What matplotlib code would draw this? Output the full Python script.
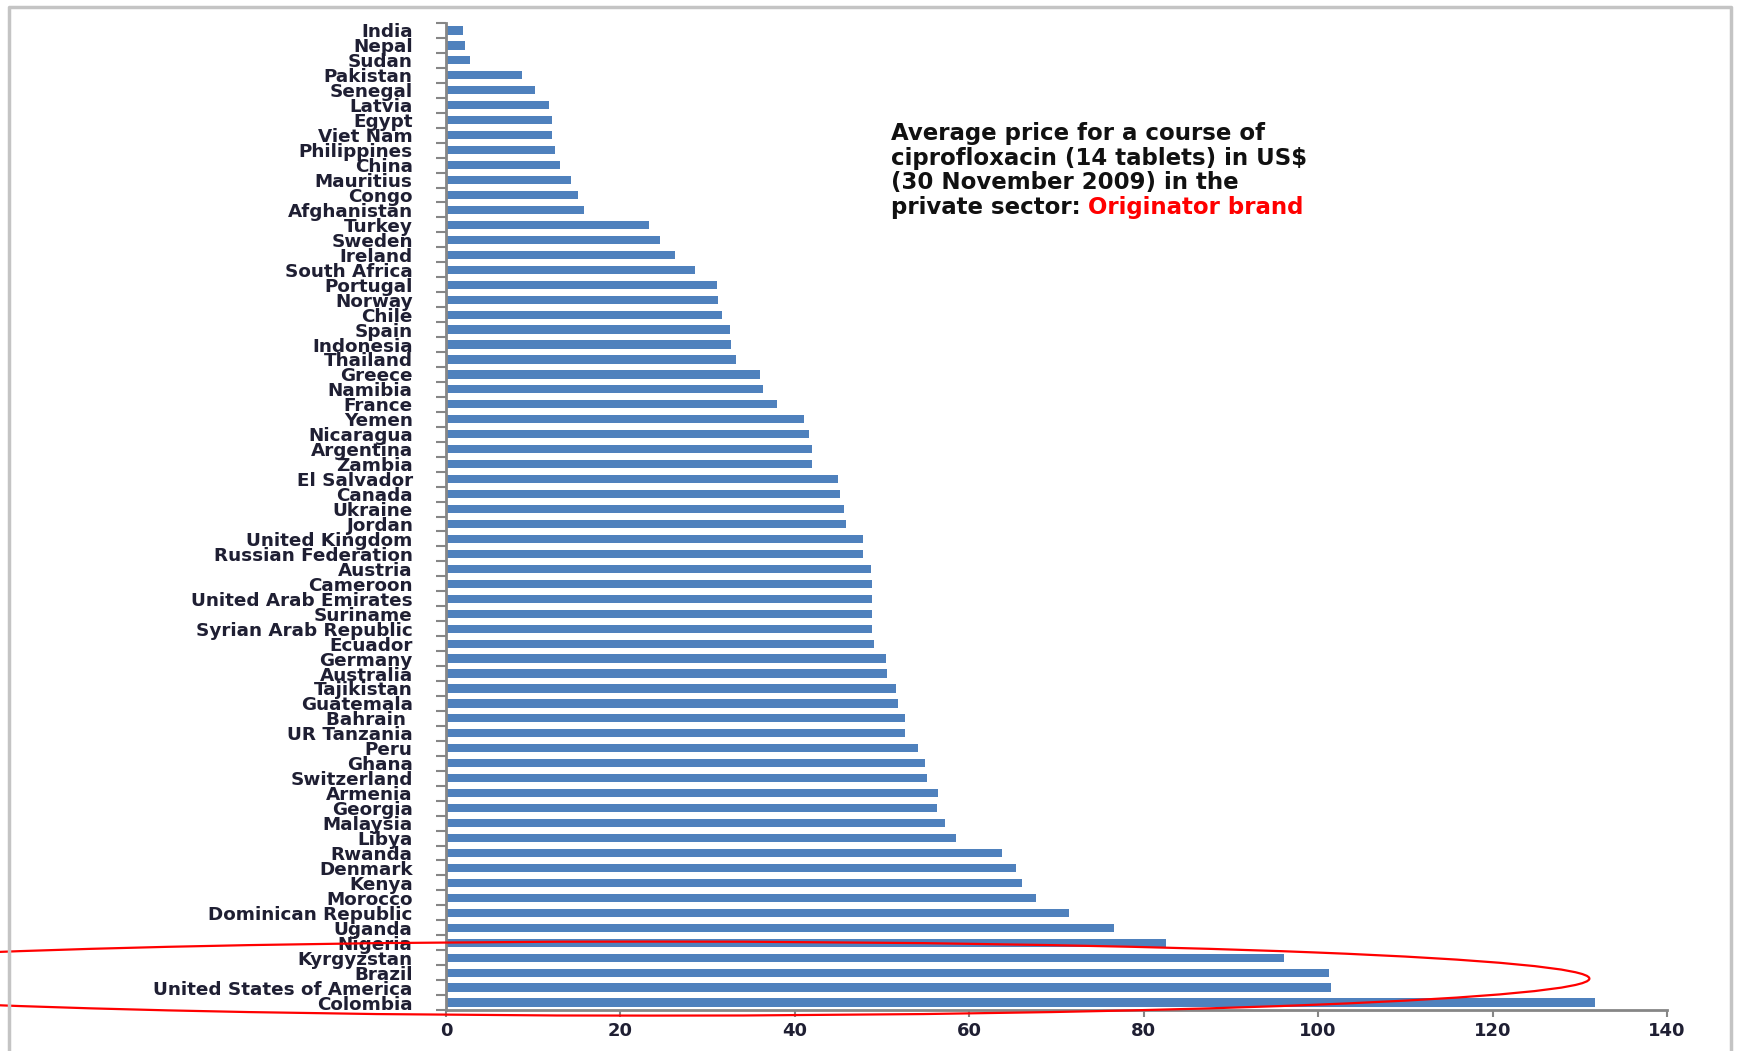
import matplotlib.pyplot as plt
import numpy as np
from matplotlib.patches import Ellipse
from matplotlib.lines import Line2D

countries = [
    'India', 'Nepal', 'Sudan', 'Pakistan', 'Senegal', 'Latvia', 'Egypt', 'Viet Nam',
    'Philippines', 'China', 'Mauritius', 'Congo', 'Afghanistan', 'Turkey', 'Sweden',
    'Ireland', 'South Africa', 'Portugal', 'Norway', 'Chile', 'Spain', 'Indonesia',
    'Thailand', 'Greece', 'Namibia', 'France', 'Yemen', 'Nicaragua', 'Argentina',
    'Zambia', 'El Salvador', 'Canada', 'Ukraine', 'Jordan', 'United Kingdom',
    'Russian Federation', 'Austria', 'Cameroon', 'United Arab Emirates', 'Suriname',
    'Syrian Arab Republic', 'Ecuador', 'Germany', 'Australia', 'Tajikistan', 'Guatemala',
    'Bahrain ', 'UR Tanzania', 'Peru', 'Ghana', 'Switzerland', 'Armenia', 'Georgia',
    'Malaysia', 'Libya', 'Rwanda', 'Denmark', 'Kenya', 'Morocco', 'Dominican Republic',
    'Uganda', 'Nigeria', 'Kyrgyzstan', 'Brazil', 'United States of America', 'Colombia',
]

prices = [
    1.9, 2.2, 2.7, 8.7, 10.2, 11.8, 12.1, 12.1,
    12.5, 13.1, 14.3, 15.1, 15.8, 23.3, 24.5,
    26.2, 28.5, 31.1, 31.2, 31.6, 32.6, 32.7,
    33.3, 36.0, 36.4, 37.9, 41.0, 41.6, 42.0,
    42.0, 44.9, 45.2, 45.6, 45.9, 47.8,
    47.8, 48.7, 48.8, 48.8, 48.9,
    48.9, 49.1, 50.5, 50.6, 51.6, 51.8,
    52.6, 52.6, 54.1, 54.9, 55.1, 56.4, 56.3,
    57.2, 58.5, 63.7, 65.4, 66.0, 67.6, 71.4,
    76.6, 82.6, 96.1, 101.3, 101.5, 131.8,
]

title_lines = [
    'Average price for a course of',
    'ciprofloxacin (14 tablets) in US$',
    '(30 November 2009) in the',
    'private sector:',
]
highlight = 'Originator brand'

bar_color = '#4f81bd'
axis_gray = '#868686'
text_dark = '#1f1f33'

fig = plt.figure(figsize=(17.41, 10.51), dpi=100)
ax = fig.add_axes([446 / 1741, 1 - 1010 / 1051, (1667 - 446) / 1741, (1010 - 23) / 1051])

y = np.arange(len(countries))
ax.barh(y, prices, height=0.55, color=bar_color)
ax.set_ylim(len(countries) - 0.5, -0.5)
ax.set_xlim(0, 140)

ax.set_yticks(y)
ax.set_yticklabels(countries, fontsize=13.2, fontweight='bold', color=text_dark)
ax.set_yticks(np.arange(-0.5, len(countries), 1), minor=True)
ax.tick_params(axis='y', which='major', length=0, pad=24)
ax.tick_params(axis='y', which='minor', length=7, width=1.5, color=axis_gray, direction='out')

ax.set_xticks(np.arange(0, 141, 20))
ax.tick_params(axis='x', length=5, width=1.5, color=axis_gray, labelsize=13,
               labelcolor=text_dark, pad=4)
for lbl in ax.get_xticklabels():
    lbl.set_fontweight('bold')

for s in ['top', 'right']:
    ax.spines[s].set_visible(False)
for s in ['left', 'bottom']:
    ax.spines[s].set_color(axis_gray)
    ax.spines[s].set_linewidth(2)

# title block, last line partly red
y0 = 1 - 140 / 1051
step = 24.7 / 1051
for i, line in enumerate(title_lines):
    t = fig.text(891 / 1741, y0 - i * step, line, fontsize=16.5, fontweight='bold',
                 color='#111111', ha='left', va='baseline')
ax.annotate(highlight, xy=(1, 0), xycoords=t, xytext=(5, 0), textcoords='offset points',
            ha='left', va='bottom', fontsize=16.5, fontweight='bold', color='red')

# red ellipse round the top prices
ax.add_patch(Ellipse((23.4, 63.4), 215.4, 4.95, fill=False, edgecolor='red',
                     linewidth=1.6, clip_on=False, zorder=5))

# slide frame
fig.add_artist(Line2D([9 / 1741, 9 / 1741, 1731 / 1741, 1731 / 1741],
                      [-0.01, 1 - 7 / 1051, 1 - 7 / 1051, -0.01],
                      transform=fig.transFigure, color='#c4c4c4', linewidth=2.5))

fig.savefig('out.png', dpi=100)
